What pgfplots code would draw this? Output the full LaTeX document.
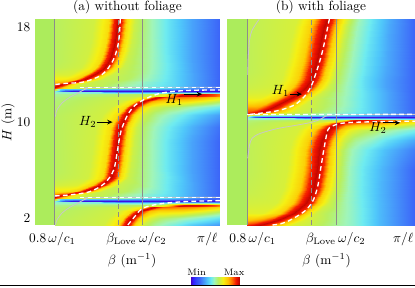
\documentclass[border=0pt]{standalone}
\usepackage{pgfplots}
\pgfplotsset{compat=1.18}
\usetikzlibrary{arrows.meta}
\definecolor{stripcol}{RGB}{172,236,92}
\definecolor{vlinecol}{RGB}{140,140,140}
\definecolor{gcurvecol}{RGB}{200,200,200}
\tikzset{myarrow/.style={-{Stealth[length=4pt,width=3.5pt]}, line width=0.7pt, black}}
\pgfplotsset{
  colormap={hm}{rgb255(0cm)=(70,0,200) rgb255(4cm)=(50,30,255) rgb255(10cm)=(50,70,250) rgb255(17cm)=(60,100,248) rgb255(25cm)=(70,150,250) rgb255(33cm)=(80,200,250) rgb255(40cm)=(110,235,240) rgb255(48cm)=(160,245,185) rgb255(56cm)=(185,240,95) rgb255(66cm)=(245,240,20) rgb255(76cm)=(255,190,0) rgb255(84cm)=(255,110,0) rgb255(92cm)=(240,20,0) rgb255(100cm)=(170,0,0)},
  hmax/.style={
    scale only axis, height=154.5pt,
    xmin=0, xmax=186, ymin=1.4, ymax=18.7,
    axis line style={draw=none},
    major tick length=0pt,
    axis background/.style={fill=stripcol},
    colormap name=hm,
    point meta min=0, point meta max=1,
    title style={at={(0.5,1)}, anchor=base, yshift=0.75pt},
    xlabel={$\beta$ (m$^{-1}$)},
    xticklabel style={anchor=base, yshift=-12.75pt},
  },
  myvl/.style={draw=vlinecol, line width=0.7pt},
  mywd/.style={draw=white, line width=1pt, dash pattern=on 3.5pt off 2.5pt},
  mygc/.style={draw=gcurvecol, line width=0.6pt},
}
\begin{document}
\begin{tikzpicture}
\path[use as bounding box] (0pt,0pt) rectangle (311.25pt,215.25pt);
% ---------------- panel (a)
\begin{axis}[hmax, at={(26.25pt,46.5pt)}, anchor=south west, width=138.75pt,
  title={(a) without foliage},
  xtick={17.5,86.7,118.3,173.3},
  xticklabels={$0.8\,\omega/c_1$,$\beta_{\mathrm{Love}}$,$\omega/c_2$,$\pi/\ell$},
  ytick={2,10,18},
  ylabel={$H$ (m)},
  ylabel style={at={(axis description cs:-0.146,0.5)}, anchor=center},
  xlabel style={at={(axis description cs:0.525,0)}, anchor=base, yshift=-29.25pt},
]
\addplot[surf, shader=interp, mesh/cols=12, point meta=explicit] table[row sep=\\, x=x, y=y, meta=c] {
x y c\\
20 1.4 0.56\\ 68 1.4 0.60\\ 83 1.4 0.70\\ 88 1.4 0.90\\ 92 1.4 0.97\\ 96 1.4 0.90\\ 101 1.4 0.70\\ 110 1.4 0.59\\ 122 1.4 0.50\\ 140 1.4 0.42\\ 160 1.4 0.33\\ 186 1.4 0.25\\
20 2.0 0.56\\ 73 2.0 0.60\\ 88 2.0 0.70\\ 93 2.0 0.90\\ 97 2.0 0.97\\ 101 2.0 0.90\\ 106 2.0 0.72\\ 115 2.0 0.62\\ 126 2.0 0.56\\ 142 2.0 0.52\\ 162 2.0 0.46\\ 186 2.0 0.38\\
20 2.6 0.55\\ 82 2.6 0.60\\ 97 2.6 0.70\\ 102 2.6 0.90\\ 106 2.6 0.97\\ 110 2.6 0.89\\ 115 2.6 0.76\\ 124 2.6 0.71\\ 135 2.6 0.71\\ 150 2.6 0.70\\ 168 2.6 0.65\\ 186 2.6 0.58\\
20 2.89 0.54\\ 96 2.89 0.60\\ 111 2.89 0.70\\ 116 2.89 0.90\\ 120 2.89 0.97\\ 124 2.89 0.91\\ 129 2.89 0.85\\ 138 2.89 0.84\\ 148 2.89 0.83\\ 160 2.89 0.81\\ 173 2.89 0.77\\ 186 2.89 0.71\\
20 3.03 0.53\\ 110 3.03 0.58\\ 128 3.03 0.66\\ 139 3.03 0.84\\ 145 3.03 0.96\\ 150 3.03 0.94\\ 156 3.03 0.93\\ 164 3.03 0.92\\ 170 3.03 0.90\\ 176 3.03 0.88\\ 181 3.03 0.86\\ 186 3.03 0.81\\
20 3.12 0.52\\ 110 3.12 0.56\\ 130 3.12 0.62\\ 142 3.12 0.84\\ 150 3.12 0.94\\ 158 3.12 0.95\\ 165 3.12 0.94\\ 170 3.12 0.93\\ 175 3.12 0.91\\ 179 3.12 0.89\\ 183 3.12 0.86\\ 186 3.12 0.83\\
20 3.27 0.47\\ 110 3.27 0.40\\ 130 3.27 0.42\\ 142 3.27 0.45\\ 150 3.27 0.47\\ 158 3.27 0.47\\ 165 3.27 0.47\\ 170 3.27 0.46\\ 175 3.27 0.45\\ 179 3.27 0.44\\ 183 3.27 0.43\\ 186 3.27 0.42\\
20 3.42 0.45\\ 28 3.42 0.15\\ 36 3.42 0.03\\ 50 3.42 0.02\\ 70 3.42 0.02\\ 90 3.42 0.02\\ 110 3.42 0.02\\ 130 3.42 0.02\\ 150 3.42 0.02\\ 165 3.42 0.02\\ 176 3.42 0.02\\ 186 3.42 0.02\\
20 3.57 0.75\\ 22 3.57 0.50\\ 24 3.57 0.40\\ 26 3.57 0.35\\ 28 3.57 0.33\\ 30 3.57 0.33\\ 36 3.57 0.33\\ 46 3.57 0.33\\ 66 3.57 0.32\\ 140 3.57 0.25\\ 160 3.57 0.20\\ 186 3.57 0.15\\
20 3.68 0.90\\ 20 3.68 0.90\\ 20 3.68 0.90\\ 20 3.68 0.90\\ 20 3.68 0.90\\ 24 3.68 0.80\\ 29 3.68 0.70\\ 40 3.68 0.62\\ 62 3.68 0.57\\ 140 3.68 0.34\\ 160 3.68 0.25\\ 186 3.68 0.16\\
20 3.76 0.97\\ 20 3.76 0.97\\ 20 3.76 0.97\\ 20 3.76 0.97\\ 20 3.76 0.97\\ 24 3.76 0.88\\ 29 3.76 0.72\\ 40 3.76 0.61\\ 62 3.76 0.57\\ 140 3.76 0.35\\ 160 3.76 0.26\\ 186 3.76 0.17\\
20 3.97 0.80\\ 20 3.97 0.80\\ 24 3.97 0.85\\ 29 3.97 0.90\\ 33 3.97 0.97\\ 37 3.97 0.90\\ 42 3.97 0.70\\ 51 3.97 0.60\\ 75 3.97 0.57\\ 140 3.97 0.36\\ 160 3.97 0.27\\ 186 3.97 0.17\\
20 4.27 0.68\\ 30 4.27 0.68\\ 41 4.27 0.72\\ 46 4.27 0.90\\ 50 4.27 0.97\\ 54 4.27 0.90\\ 59 4.27 0.70\\ 68 4.27 0.59\\ 92 4.27 0.56\\ 140 4.27 0.36\\ 160 4.27 0.27\\ 186 4.27 0.17\\
20 4.72 0.60\\ 42 4.72 0.62\\ 57 4.72 0.72\\ 62 4.72 0.90\\ 66 4.72 0.97\\ 70 4.72 0.90\\ 75 4.72 0.70\\ 84 4.72 0.59\\ 106 4.72 0.54\\ 140 4.72 0.36\\ 160 4.72 0.27\\ 186 4.72 0.17\\
20 5.32 0.57\\ 52 5.32 0.60\\ 67 5.32 0.70\\ 72 5.32 0.90\\ 76 5.32 0.97\\ 80 5.32 0.90\\ 85 5.32 0.70\\ 94 5.32 0.59\\ 114 5.32 0.50\\ 137 5.32 0.38\\ 159 5.32 0.27\\ 186 5.32 0.17\\
20 6.0 0.56\\ 54 6.0 0.60\\ 69 6.0 0.70\\ 74 6.0 0.90\\ 78 6.0 0.97\\ 82 6.0 0.90\\ 87 6.0 0.70\\ 96 6.0 0.59\\ 118 6.0 0.48\\ 135 6.0 0.38\\ 158 6.0 0.27\\ 186 6.0 0.17\\
20 7.0 0.56\\ 56 7.0 0.60\\ 71 7.0 0.70\\ 76 7.0 0.90\\ 80 7.0 0.97\\ 84 7.0 0.90\\ 89 7.0 0.70\\ 98 7.0 0.59\\ 118 7.0 0.48\\ 135 7.0 0.38\\ 158 7.0 0.27\\ 186 7.0 0.17\\
20 8.4 0.56\\ 58 8.4 0.60\\ 73 8.4 0.70\\ 78 8.4 0.90\\ 82 8.4 0.97\\ 86 8.4 0.90\\ 91 8.4 0.70\\ 100 8.4 0.59\\ 118 8.4 0.48\\ 135 8.4 0.38\\ 158 8.4 0.27\\ 186 8.4 0.17\\
20 9.6 0.56\\ 61 9.6 0.60\\ 76 9.6 0.70\\ 81 9.6 0.90\\ 85 9.6 0.97\\ 89 9.6 0.90\\ 94 9.6 0.70\\ 103 9.6 0.59\\ 120 9.6 0.48\\ 137 9.6 0.39\\ 159 9.6 0.29\\ 186 9.6 0.19\\
20 10.6 0.56\\ 67 10.6 0.60\\ 82 10.6 0.70\\ 87 10.6 0.90\\ 91 10.6 0.97\\ 95 10.6 0.90\\ 100 10.6 0.70\\ 109 10.6 0.60\\ 124 10.6 0.51\\ 140 10.6 0.44\\ 161 10.6 0.35\\ 186 10.6 0.26\\
20 11.3 0.55\\ 75 11.3 0.60\\ 90 11.3 0.70\\ 95 11.3 0.90\\ 99 11.3 0.97\\ 103 11.3 0.90\\ 108 11.3 0.72\\ 117 11.3 0.62\\ 130 11.3 0.57\\ 146 11.3 0.53\\ 164 11.3 0.47\\ 186 11.3 0.40\\
20 11.85 0.54\\ 86 11.85 0.60\\ 101 11.85 0.70\\ 106 11.85 0.90\\ 110 11.85 0.97\\ 114 11.85 0.90\\ 119 11.85 0.78\\ 128 11.85 0.73\\ 140 11.85 0.72\\ 154 11.85 0.70\\ 169 11.85 0.65\\ 186 11.85 0.58\\
20 12.13 0.53\\ 101 12.13 0.60\\ 116 12.13 0.70\\ 121 12.13 0.90\\ 125 12.13 0.97\\ 129 12.13 0.92\\ 134 12.13 0.86\\ 143 12.13 0.84\\ 152 12.13 0.83\\ 163 12.13 0.81\\ 174 12.13 0.77\\ 186 12.13 0.71\\
20 12.27 0.52\\ 110 12.27 0.58\\ 128 12.27 0.66\\ 139 12.27 0.84\\ 145 12.27 0.96\\ 150 12.27 0.94\\ 156 12.27 0.93\\ 164 12.27 0.92\\ 170 12.27 0.90\\ 176 12.27 0.88\\ 181 12.27 0.86\\ 186 12.27 0.81\\
20 12.36 0.51\\ 110 12.36 0.56\\ 130 12.36 0.62\\ 142 12.36 0.84\\ 150 12.36 0.94\\ 158 12.36 0.95\\ 165 12.36 0.94\\ 170 12.36 0.93\\ 175 12.36 0.91\\ 179 12.36 0.89\\ 183 12.36 0.86\\ 186 12.36 0.83\\
20 12.51 0.47\\ 110 12.51 0.40\\ 130 12.51 0.42\\ 142 12.51 0.45\\ 150 12.51 0.47\\ 158 12.51 0.47\\ 165 12.51 0.47\\ 170 12.51 0.46\\ 175 12.51 0.45\\ 179 12.51 0.44\\ 183 12.51 0.43\\ 186 12.51 0.42\\
20 12.66 0.45\\ 28 12.66 0.15\\ 36 12.66 0.03\\ 50 12.66 0.02\\ 70 12.66 0.02\\ 90 12.66 0.02\\ 110 12.66 0.02\\ 130 12.66 0.02\\ 150 12.66 0.02\\ 165 12.66 0.02\\ 176 12.66 0.02\\ 186 12.66 0.02\\
20 12.81 0.75\\ 22 12.81 0.50\\ 24 12.81 0.40\\ 26 12.81 0.35\\ 28 12.81 0.33\\ 30 12.81 0.33\\ 36 12.81 0.33\\ 46 12.81 0.33\\ 66 12.81 0.32\\ 140 12.81 0.25\\ 160 12.81 0.20\\ 186 12.81 0.15\\
20 12.92 0.90\\ 20 12.92 0.90\\ 20 12.92 0.90\\ 20 12.92 0.90\\ 20 12.92 0.90\\ 24 12.92 0.80\\ 29 12.92 0.70\\ 40 12.92 0.62\\ 62 12.92 0.57\\ 140 12.92 0.34\\ 160 12.92 0.25\\ 186 12.92 0.16\\
20 13.0 0.97\\ 20 13.0 0.97\\ 20 13.0 0.97\\ 20 13.0 0.97\\ 20 13.0 0.97\\ 24 13.0 0.88\\ 29 13.0 0.72\\ 40 13.0 0.61\\ 62 13.0 0.57\\ 140 13.0 0.35\\ 160 13.0 0.26\\ 186 13.0 0.17\\
20 13.2 0.85\\ 20 13.2 0.85\\ 20 13.2 0.85\\ 24 13.2 0.90\\ 28 13.2 0.97\\ 32 13.2 0.90\\ 37 13.2 0.70\\ 46 13.2 0.60\\ 70 13.2 0.57\\ 140 13.2 0.36\\ 160 13.2 0.27\\ 186 13.2 0.17\\
20 13.39 0.75\\ 20 13.39 0.75\\ 29 13.39 0.78\\ 34 13.39 0.90\\ 38 13.39 0.97\\ 42 13.39 0.90\\ 47 13.39 0.70\\ 56 13.39 0.59\\ 80 13.39 0.56\\ 140 13.39 0.36\\ 160 13.39 0.27\\ 186 13.39 0.17\\
20 13.7 0.66\\ 30 13.7 0.67\\ 41 13.7 0.72\\ 46 13.7 0.90\\ 50 13.7 0.97\\ 54 13.7 0.90\\ 59 13.7 0.70\\ 68 13.7 0.59\\ 92 13.7 0.56\\ 140 13.7 0.36\\ 160 13.7 0.27\\ 186 13.7 0.17\\
20 13.98 0.62\\ 34 13.98 0.62\\ 49 13.98 0.71\\ 54 13.98 0.90\\ 58 13.98 0.97\\ 62 13.98 0.90\\ 67 13.98 0.70\\ 76 13.98 0.59\\ 100 13.98 0.55\\ 140 13.98 0.36\\ 160 13.98 0.27\\ 186 13.98 0.17\\
20 14.3 0.59\\ 41 14.3 0.61\\ 56 14.3 0.70\\ 61 14.3 0.90\\ 65 14.3 0.97\\ 69 14.3 0.90\\ 74 14.3 0.70\\ 83 14.3 0.59\\ 107 14.3 0.53\\ 138 14.3 0.37\\ 159 14.3 0.27\\ 186 14.3 0.17\\
20 14.65 0.57\\ 46 14.65 0.60\\ 61 14.65 0.70\\ 66 14.65 0.90\\ 70 14.65 0.97\\ 74 14.65 0.90\\ 79 14.65 0.70\\ 88 14.65 0.59\\ 112 14.65 0.51\\ 137 14.65 0.38\\ 159 14.65 0.27\\ 186 14.65 0.17\\
20 15.3 0.56\\ 51 15.3 0.60\\ 66 15.3 0.70\\ 71 15.3 0.90\\ 75 15.3 0.97\\ 79 15.3 0.90\\ 84 15.3 0.70\\ 93 15.3 0.59\\ 116 15.3 0.49\\ 136 15.3 0.38\\ 158 15.3 0.27\\ 186 15.3 0.17\\
20 16.07 0.56\\ 54 16.07 0.60\\ 69 16.07 0.70\\ 74 16.07 0.90\\ 78 16.07 0.97\\ 82 16.07 0.90\\ 87 16.07 0.70\\ 96 16.07 0.59\\ 118 16.07 0.48\\ 135 16.07 0.38\\ 158 16.07 0.27\\ 186 16.07 0.17\\
20 17.3 0.56\\ 57 17.3 0.60\\ 72 17.3 0.70\\ 77 17.3 0.90\\ 81 17.3 0.97\\ 85 17.3 0.90\\ 90 17.3 0.70\\ 99 17.3 0.59\\ 118 17.3 0.48\\ 135 17.3 0.38\\ 158 17.3 0.27\\ 186 17.3 0.17\\
20 18.7 0.56\\ 59 18.7 0.60\\ 74 18.7 0.70\\ 79 18.7 0.90\\ 83 18.7 0.97\\ 87 18.7 0.90\\ 92 18.7 0.70\\ 101 18.7 0.59\\ 118 18.7 0.48\\ 135 18.7 0.38\\ 158 18.7 0.27\\ 186 18.7 0.17\\
};
\addplot[myvl] coordinates {(20,1.4) (20,18.7)};
\addplot[myvl, dash pattern=on 3.75pt off 2.25pt] coordinates {(84,1.4) (84,18.7)};
\addplot[myvl] coordinates {(108,1.4) (108,18.7)};
\addplot[mygc, smooth] coordinates {(186,12.96) (60,12.95) (52,12.85) (47,12.66) (43,12.47) (35,12.13) (27,11.63) (22,11.05) (20.5,10.5)};
\addplot[mygc, smooth] coordinates {(186,3.72) (60,3.71) (52,3.61) (47,3.42) (43,3.23) (35,2.89) (27,2.39) (22,1.81) (20.5,1.4)};
\addplot[mywd] coordinates {(45,12.96) (186,12.96)};
\addplot[mywd] coordinates {(45,3.72) (186,3.72)};
\addplot[mywd, smooth] coordinates {(85.7,18.7) (84.3,16.9) (80,15.5) (73.3,14.54) (65,13.9) (48.3,13.4) (31.7,13.3) (20,13.2)};
\addplot[mywd, smooth] coordinates {(20,3.84) (35,3.93) (55,4.2) (70,4.9) (79,6.0) (83,7.7) (86.5,9.3) (93,10.63) (100.7,11.46) (111.7,12.02) (125,12.44) (141.7,12.64) (161.7,12.72) (186,12.74)};
\addplot[mywd, smooth] coordinates {(93.3,1.4) (101.7,2.25) (108.3,2.81) (125,3.17) (151.7,3.37) (186,3.45)};
\draw[myarrow] (axis cs:62,10.04) -- (axis cs:78,10.04);
\node at (axis cs:53,10.04) {$H_2$};
\draw[myarrow] (axis cs:150,12.39) -- (axis cs:168,12.39);
\node at (axis cs:140,11.88) {$H_1$};
\end{axis}
% ---------------- panel (b)
\begin{axis}[hmax, at={(170.25pt,46.5pt)}, anchor=south west, width=141pt,
  title={(b) with foliage},
  xtick={25.3,92.8,123.4,174.4},
  xticklabels={$0.8\,\omega/c_1$,$\beta_{\mathrm{Love}}$,$\omega/c_2$,$\pi/\ell$},
  ytick=\empty,
  xlabel style={at={(axis description cs:0.53,0)}, anchor=base, yshift=-29.25pt},
]
\addplot[surf, shader=interp, mesh/cols=12, point meta=explicit] table[row sep=\\, x=x, y=y, meta=c] {
x y c\\
20 1.4 0.90\\ 20 1.4 0.90\\ 20 1.4 0.90\\ 25 1.4 0.93\\ 33 1.4 0.97\\ 41 1.4 0.90\\ 50 1.4 0.74\\ 63 1.4 0.62\\ 90 1.4 0.57\\ 125 1.4 0.45\\ 150 1.4 0.31\\ 186 1.4 0.17\\
20 1.83 0.75\\ 22 1.83 0.75\\ 34 1.83 0.80\\ 44 1.83 0.90\\ 50 1.83 0.97\\ 56 1.83 0.90\\ 64 1.83 0.74\\ 76 1.83 0.62\\ 98 1.83 0.56\\ 125 1.83 0.45\\ 150 1.83 0.31\\ 186 1.83 0.17\\
20 2.42 0.63\\ 36 2.42 0.63\\ 52 2.42 0.72\\ 60 2.42 0.90\\ 66 2.42 0.97\\ 72 2.42 0.90\\ 78 2.42 0.72\\ 88 2.42 0.60\\ 110 2.42 0.52\\ 125 2.42 0.45\\ 150 2.42 0.31\\ 186 2.42 0.17\\
20 3.26 0.60\\ 48 3.26 0.61\\ 64 3.26 0.72\\ 72 3.26 0.90\\ 78 3.26 0.97\\ 84 3.26 0.90\\ 90 3.26 0.72\\ 100 3.26 0.60\\ 115 3.26 0.50\\ 130 3.26 0.42\\ 150 3.26 0.31\\ 186 3.26 0.17\\
20 4.35 0.58\\ 55 4.35 0.61\\ 71 4.35 0.72\\ 79 4.35 0.90\\ 85 4.35 0.97\\ 91 4.35 0.90\\ 97 4.35 0.72\\ 107 4.35 0.59\\ 120 4.35 0.48\\ 135 4.35 0.39\\ 152 4.35 0.30\\ 186 4.35 0.17\\
20 6.0 0.57\\ 59 6.0 0.61\\ 75 6.0 0.72\\ 83 6.0 0.90\\ 89 6.0 0.97\\ 95 6.0 0.90\\ 101 6.0 0.72\\ 111 6.0 0.58\\ 122 6.0 0.47\\ 137 6.0 0.38\\ 153 6.0 0.30\\ 186 6.0 0.17\\
20 7.7 0.57\\ 61 7.7 0.61\\ 77 7.7 0.72\\ 85 7.7 0.90\\ 91 7.7 0.97\\ 97 7.7 0.90\\ 103 7.7 0.72\\ 113 7.7 0.58\\ 124 7.7 0.48\\ 139 7.7 0.40\\ 155 7.7 0.32\\ 186 7.7 0.21\\
20 8.5 0.57\\ 64 8.5 0.61\\ 80 8.5 0.72\\ 88 8.5 0.90\\ 94 8.5 0.97\\ 100 8.5 0.90\\ 106 8.5 0.72\\ 116 8.5 0.60\\ 127 8.5 0.52\\ 142 8.5 0.46\\ 158 8.5 0.38\\ 186 8.5 0.28\\
20 9.37 0.57\\ 70 9.37 0.61\\ 86 9.37 0.72\\ 94 9.37 0.90\\ 100 9.37 0.97\\ 106 9.37 0.90\\ 112 9.37 0.74\\ 122 9.37 0.64\\ 134 9.37 0.59\\ 148 9.37 0.55\\ 164 9.37 0.49\\ 186 9.37 0.42\\
20 9.7 0.56\\ 75 9.7 0.61\\ 91 9.7 0.72\\ 99 9.7 0.90\\ 105 9.7 0.97\\ 111 9.7 0.89\\ 117 9.7 0.78\\ 127 9.7 0.71\\ 140 9.7 0.69\\ 153 9.7 0.66\\ 168 9.7 0.60\\ 186 9.7 0.53\\
20 10.0 0.55\\ 86 10.0 0.62\\ 100 10.0 0.72\\ 107 10.0 0.90\\ 112 10.0 0.97\\ 117 10.0 0.91\\ 124 10.0 0.86\\ 136 10.0 0.82\\ 148 10.0 0.80\\ 160 10.0 0.76\\ 173 10.0 0.70\\ 186 10.0 0.64\\
20 10.12 0.54\\ 100 10.12 0.60\\ 112 10.12 0.68\\ 119 10.12 0.86\\ 125 10.12 0.96\\ 131 10.12 0.93\\ 138 10.12 0.90\\ 148 10.12 0.88\\ 158 10.12 0.84\\ 167 10.12 0.80\\ 176 10.12 0.76\\ 186 10.12 0.70\\
20 10.19 0.53\\ 110 10.19 0.58\\ 118 10.19 0.66\\ 122 10.19 0.86\\ 128 10.19 0.93\\ 136 10.19 0.93\\ 145 10.19 0.91\\ 155 10.19 0.87\\ 163 10.19 0.83\\ 170 10.19 0.79\\ 178 10.19 0.75\\ 186 10.19 0.71\\
20 10.30 0.48\\ 110 10.30 0.42\\ 118 10.30 0.42\\ 122 10.30 0.44\\ 128 10.30 0.46\\ 136 10.30 0.46\\ 145 10.30 0.46\\ 155 10.30 0.45\\ 163 10.30 0.44\\ 170 10.30 0.42\\ 178 10.30 0.40\\ 186 10.30 0.38\\
20 10.44 0.45\\ 28 10.44 0.15\\ 36 10.44 0.03\\ 50 10.44 0.02\\ 70 10.44 0.02\\ 90 10.44 0.02\\ 110 10.44 0.02\\ 130 10.44 0.02\\ 150 10.44 0.02\\ 165 10.44 0.02\\ 176 10.44 0.02\\ 186 10.44 0.02\\
20 10.58 0.75\\ 22 10.58 0.50\\ 24 10.58 0.40\\ 26 10.58 0.35\\ 28 10.58 0.33\\ 30 10.58 0.33\\ 36 10.58 0.33\\ 46 10.58 0.33\\ 66 10.58 0.32\\ 140 10.58 0.25\\ 160 10.58 0.20\\ 186 10.58 0.15\\
20 10.70 0.90\\ 20 10.70 0.90\\ 20 10.70 0.90\\ 20 10.70 0.90\\ 20 10.70 0.90\\ 26 10.70 0.80\\ 34 10.70 0.70\\ 46 10.70 0.62\\ 70 10.70 0.57\\ 140 10.70 0.34\\ 160 10.70 0.25\\ 186 10.70 0.16\\
20 10.78 0.97\\ 20 10.78 0.97\\ 20 10.78 0.97\\ 20 10.78 0.97\\ 20 10.78 0.97\\ 27 10.78 0.90\\ 36 10.78 0.75\\ 50 10.78 0.63\\ 72 10.78 0.57\\ 140 10.78 0.35\\ 160 10.78 0.26\\ 186 10.78 0.17\\
20 10.92 0.85\\ 20 10.92 0.85\\ 22 10.92 0.88\\ 28 10.92 0.92\\ 33 10.92 0.97\\ 40 10.92 0.90\\ 50 10.92 0.74\\ 64 10.92 0.62\\ 86 10.92 0.57\\ 140 10.92 0.36\\ 160 10.92 0.27\\ 186 10.92 0.17\\
20 11.2 0.80\\ 20 11.2 0.80\\ 30 11.2 0.80\\ 38 11.2 0.90\\ 44 11.2 0.97\\ 50 11.2 0.90\\ 58 11.2 0.74\\ 70 11.2 0.62\\ 95 11.2 0.56\\ 140 11.2 0.36\\ 160 11.2 0.27\\ 186 11.2 0.17\\
20 11.63 0.70\\ 25 11.63 0.70\\ 39 11.63 0.74\\ 47 11.63 0.90\\ 53 11.63 0.97\\ 59 11.63 0.90\\ 67 11.63 0.73\\ 79 11.63 0.61\\ 104 11.63 0.54\\ 140 11.63 0.36\\ 160 11.63 0.27\\ 186 11.63 0.17\\
20 12.1 0.64\\ 33 12.1 0.64\\ 49 12.1 0.72\\ 57 12.1 0.90\\ 63 12.1 0.97\\ 69 12.1 0.90\\ 75 12.1 0.72\\ 85 12.1 0.60\\ 110 12.1 0.51\\ 140 12.1 0.36\\ 160 12.1 0.27\\ 186 12.1 0.17\\
20 12.47 0.61\\ 41 12.47 0.62\\ 57 12.47 0.72\\ 65 12.47 0.90\\ 71 12.47 0.97\\ 77 12.47 0.90\\ 83 12.47 0.72\\ 93 12.47 0.60\\ 116 12.47 0.49\\ 140 12.47 0.36\\ 160 12.47 0.27\\ 186 12.47 0.17\\
20 13.0 0.59\\ 48 13.0 0.61\\ 64 13.0 0.72\\ 72 13.0 0.90\\ 78 13.0 0.97\\ 84 13.0 0.90\\ 90 13.0 0.72\\ 100 13.0 0.60\\ 118 13.0 0.48\\ 137 13.0 0.37\\ 157 13.0 0.27\\ 186 13.0 0.17\\
20 13.56 0.58\\ 53 13.56 0.61\\ 69 13.56 0.72\\ 77 13.56 0.90\\ 83 13.56 0.97\\ 89 13.56 0.90\\ 95 13.56 0.72\\ 105 13.56 0.59\\ 120 13.56 0.48\\ 137 13.56 0.37\\ 157 13.56 0.27\\ 186 13.56 0.17\\
20 14.4 0.57\\ 56 14.4 0.61\\ 72 14.4 0.72\\ 80 14.4 0.90\\ 86 14.4 0.97\\ 92 14.4 0.90\\ 98 14.4 0.72\\ 108 14.4 0.59\\ 122 14.4 0.48\\ 138 14.4 0.38\\ 157 14.4 0.28\\ 186 14.4 0.17\\
20 15.23 0.57\\ 59 15.23 0.61\\ 75 15.23 0.72\\ 83 15.23 0.90\\ 89 15.23 0.97\\ 95 15.23 0.90\\ 101 15.23 0.72\\ 111 15.23 0.59\\ 124 15.23 0.48\\ 139 15.23 0.38\\ 158 15.23 0.28\\ 186 15.23 0.17\\
20 16.9 0.57\\ 63 16.9 0.61\\ 79 16.9 0.72\\ 87 16.9 0.90\\ 93 16.9 0.97\\ 99 16.9 0.90\\ 105 16.9 0.72\\ 115 16.9 0.59\\ 127 16.9 0.48\\ 141 16.9 0.38\\ 159 16.9 0.28\\ 186 16.9 0.17\\
20 18.0 0.57\\ 66 18.0 0.61\\ 82 18.0 0.72\\ 90 18.0 0.90\\ 96 18.0 0.97\\ 102 18.0 0.90\\ 108 18.0 0.72\\ 118 18.0 0.59\\ 129 18.0 0.48\\ 143 18.0 0.38\\ 160 18.0 0.28\\ 186 18.0 0.17\\
20 18.7 0.57\\ 69 18.7 0.61\\ 85 18.7 0.72\\ 93 18.7 0.90\\ 99 18.7 0.97\\ 105 18.7 0.90\\ 111 18.7 0.72\\ 121 18.7 0.59\\ 131 18.7 0.48\\ 144 18.7 0.38\\ 161 18.7 0.28\\ 186 18.7 0.17\\
};
\addplot[myvl] coordinates {(20,1.4) (20,18.7)};
\addplot[myvl, dash pattern=on 3.75pt off 2.25pt] coordinates {(84,1.4) (84,18.7)};
\addplot[myvl] coordinates {(108,1.4) (108,18.7)};
\addplot[mygc, smooth] coordinates {(32,18.7) (24.7,17.74) (22.3,16.9) (21,15.5) (20.5,14)};
\addplot[mygc, smooth] coordinates {(186,10.69) (120,10.68) (100,10.6) (93,10.3) (85,10.05) (70,9.8) (50,9.5) (33,9.1) (25,8.7) (22.3,8.1) (20.5,7.0)};
\addplot[mywd] coordinates {(20,10.68) (186,10.69)};
\addplot[mywd, smooth] coordinates {(101.3,18.7) (94.7,16.07) (89,14.4) (83,13.0) (76.3,12.16) (66.3,11.46) (49.7,10.99) (26.3,10.72) (20,10.70)};
\addplot[mywd, smooth] coordinates {(45,1.4) (53,1.5) (63,1.83) (76.3,2.53) (84.7,3.37) (89.7,4.62) (93,6.3) (96.3,7.97) (99.7,9.37) (104,9.7) (112,9.92) (125,10.02) (150,10.08) (186,10.12)};
\draw[myarrow] (axis cs:62.3,12.39) -- (axis cs:74.2,12.39);
\node at (axis cs:52.9,12.64) {$H_1$};
\draw[myarrow] (axis cs:154.3,9.98) -- (axis cs:171.2,9.98);
\node at (axis cs:149.4,9.54) {$H_2$};
\end{axis}
% ---------------- colour bar
\begin{axis}[at={(143.25pt,2.25pt)}, anchor=south west, scale only axis,
  width=36.75pt, height=5.25pt, hide axis, xmin=0, xmax=1, ymin=0, ymax=1,
  colormap name=hm, point meta min=0, point meta max=1, clip=false]
\addplot[surf, shader=interp, mesh/cols=11, point meta=explicit] table[row sep=\\, x=x, y=y, meta=c] {
x y c\\
0 0 0\\ 0.1 0 0.1\\ 0.2 0 0.2\\ 0.3 0 0.3\\ 0.4 0 0.4\\ 0.5 0 0.5\\ 0.6 0 0.6\\ 0.7 0 0.7\\ 0.8 0 0.8\\ 0.9 0 0.9\\ 1 0 1\\
0 1 0\\ 0.1 1 0.1\\ 0.2 1 0.2\\ 0.3 1 0.3\\ 0.4 1 0.4\\ 0.5 1 0.5\\ 0.6 1 0.6\\ 0.7 1 0.7\\ 0.8 1 0.8\\ 0.9 1 0.9\\ 1 1 1\\
};
\node[anchor=base, font=\scriptsize, inner sep=0pt, yshift=1pt] at (axis cs:0.116,1) {Min};
\node[anchor=base, font=\scriptsize, inner sep=0pt, yshift=1pt] at (axis cs:0.88,1) {Max};
\end{axis}
\draw[line width=1.1pt] (0pt,1.1pt) -- (311.25pt,1.1pt);
\end{tikzpicture}
\end{document}
